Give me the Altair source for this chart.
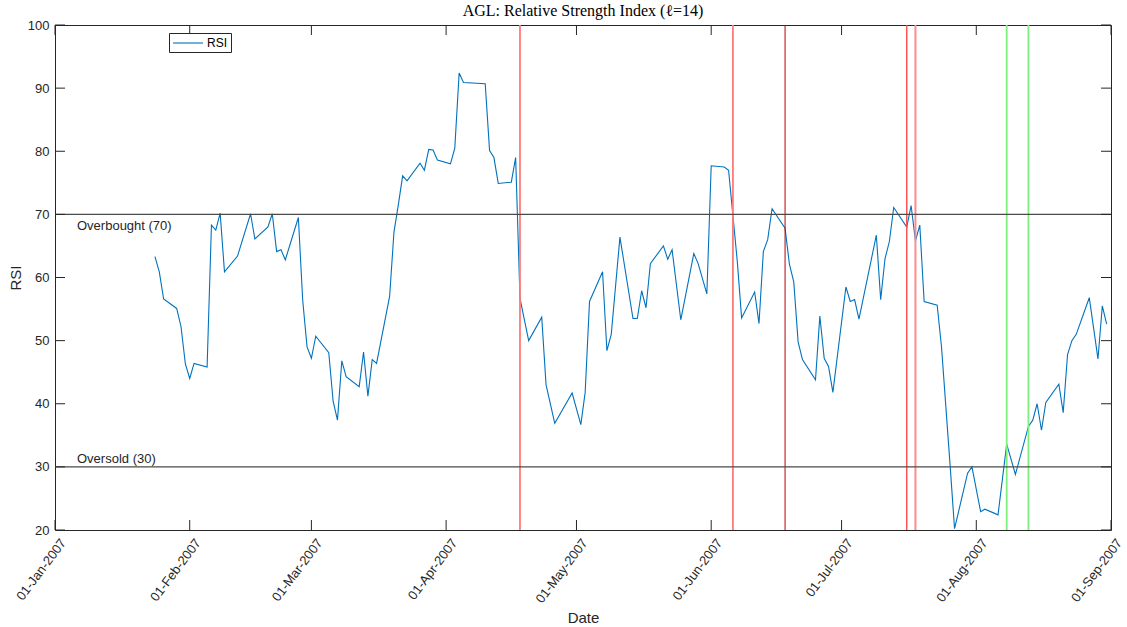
import altair as alt
import pandas as pd

# ---------------- data ----------------
rsi_dates = [
    "2007-01-24", "2007-01-25", "2007-01-26", "2007-01-29", "2007-01-30", "2007-01-31",
    "2007-02-01", "2007-02-02", "2007-02-05", "2007-02-06", "2007-02-07", "2007-02-08",
    "2007-02-09", "2007-02-12", "2007-02-15", "2007-02-16", "2007-02-19", "2007-02-20",
    "2007-02-21", "2007-02-22", "2007-02-23", "2007-02-26", "2007-02-27", "2007-02-28",
    "2007-03-01", "2007-03-02", "2007-03-05", "2007-03-06", "2007-03-07", "2007-03-08",
    "2007-03-09", "2007-03-12", "2007-03-13", "2007-03-14", "2007-03-15", "2007-03-16",
    "2007-03-19", "2007-03-20", "2007-03-21", "2007-03-22", "2007-03-23", "2007-03-26",
    "2007-03-27", "2007-03-28", "2007-03-29", "2007-03-30", "2007-04-02", "2007-04-03",
    "2007-04-04", "2007-04-05", "2007-04-10", "2007-04-11", "2007-04-12", "2007-04-13",
    "2007-04-16", "2007-04-17", "2007-04-18", "2007-04-20", "2007-04-23", "2007-04-24",
    "2007-04-26", "2007-04-30", "2007-05-02", "2007-05-03", "2007-05-04", "2007-05-07",
    "2007-05-08", "2007-05-09", "2007-05-11", "2007-05-14", "2007-05-15", "2007-05-16",
    "2007-05-17", "2007-05-18", "2007-05-21", "2007-05-22", "2007-05-23", "2007-05-25",
    "2007-05-28", "2007-05-29", "2007-05-31", "2007-06-01", "2007-06-04", "2007-06-05",
    "2007-06-06", "2007-06-07", "2007-06-08", "2007-06-11", "2007-06-12", "2007-06-13",
    "2007-06-14", "2007-06-15", "2007-06-18", "2007-06-19", "2007-06-20", "2007-06-21",
    "2007-06-22", "2007-06-25", "2007-06-26", "2007-06-27", "2007-06-28", "2007-06-29",
    "2007-07-02", "2007-07-03", "2007-07-04", "2007-07-05", "2007-07-09", "2007-07-10",
    "2007-07-11", "2007-07-12", "2007-07-13", "2007-07-16", "2007-07-17", "2007-07-18",
    "2007-07-19", "2007-07-20", "2007-07-23", "2007-07-24", "2007-07-25", "2007-07-26",
    "2007-07-27", "2007-07-30", "2007-07-31", "2007-08-02", "2007-08-03", "2007-08-06",
    "2007-08-08", "2007-08-10", "2007-08-13", "2007-08-14", "2007-08-15", "2007-08-16",
    "2007-08-17", "2007-08-20", "2007-08-21", "2007-08-22", "2007-08-23", "2007-08-24",
    "2007-08-27", "2007-08-29", "2007-08-30", "2007-08-31",
]
rsi_values = [
    63.3, 60.9, 56.6, 55.1, 52.2, 46.3,
    44.0, 46.4, 45.8, 68.3, 67.5, 70.2,
    60.9, 63.4, 70.1, 66.1, 68.0, 70.1,
    64.1, 64.4, 62.8, 69.5, 56.4, 49.0,
    47.2, 50.7, 48.1, 40.4, 37.4, 46.8,
    44.3, 42.7, 48.2, 41.2, 47.0, 46.4,
    57.0, 67.2, 71.5, 76.1, 75.3, 78.1,
    77.0, 80.3, 80.2, 78.6, 78.0, 80.5,
    92.4, 90.9, 90.7, 80.1, 79.0, 74.9,
    75.1, 79.0, 56.7, 50.0, 53.7, 43.0,
    36.9, 41.7, 36.7, 41.8, 56.2, 60.9,
    48.4, 51.0, 66.4, 53.5, 53.5, 57.9,
    55.2, 62.2, 65.0, 62.9, 64.4, 53.3,
    63.8, 62.2, 57.4, 77.7, 77.5, 77.0,
    69.8, 62.6, 53.6, 57.7, 52.7, 64.1,
    66.0, 70.9, 67.8, 62.1, 59.3, 49.8,
    47.0, 43.8, 53.9, 47.2, 45.9, 41.8,
    58.5, 56.2, 56.5, 53.4, 66.7, 56.5,
    63.0, 65.7, 71.1, 68.0, 71.4, 65.8,
    68.3, 56.2, 55.6, 49.0, 39.5, 30.0,
    20.2, 29.0, 30.0, 22.9, 23.3, 22.4,
    33.6, 28.8, 36.4, 37.4, 40.0, 35.8,
    40.2, 43.1, 38.6, 47.8, 50.0, 51.0,
    56.8, 47.1, 55.5, 52.6,
]

signal_dates = ["2007-04-18", "2007-06-06", "2007-06-18", "2007-07-16",
                "2007-07-18", "2007-08-08", "2007-08-13"]
signal_colors = ["#FF7A7A", "#FF7A7A", "#B80000", "#FF4A4A",
                 "#FF8A8A", "#7CEF7C", "#7CEF7C"]
signal_widths = [1.8, 1.8, 1.0, 1.4, 2.0, 1.8, 1.8]

month_ticks = ["2007-01-01", "2007-02-01", "2007-03-01", "2007-04-01", "2007-05-01",
               "2007-06-01", "2007-07-01", "2007-08-01", "2007-09-01"]
y_ticks = [20, 30, 40, 50, 60, 70, 80, 90, 100]

level_values = [70, 30]
level_labels = ["Overbought (70)", "Oversold (30)"]

# ---------------- layout / style ----------------
W, H = 1056, 505
FONT = "Liberation Sans"
INK = "#262626"
TICK = 10


def to_dt(s):
    return alt.DateTime(year=int(s[:4]), month=int(s[5:7]), date=int(s[8:10]))


rsi_df = pd.DataFrame({"date": pd.to_datetime(rsi_dates), "rsi": rsi_values, "series": "RSI"})
sig_df = pd.DataFrame({"date": pd.to_datetime(signal_dates), "color": signal_colors,
                       "w": signal_widths})
lvl_df = pd.DataFrame({"level": level_values, "label": level_labels})
mt_df = pd.DataFrame({"date": pd.to_datetime(month_ticks)})
yt_df = pd.DataFrame({"v": y_ticks})

x_scale = alt.Scale(domain=[to_dt(month_ticks[0]), to_dt(month_ticks[-1])])
y_scale = alt.Scale(domain=[y_ticks[0], y_ticks[-1]], nice=False, zero=False)

x_axis = alt.Axis(
    values=[to_dt(s) for s in month_ticks], format="%d-%b-%Y",
    labelAngle=307, labelAlign="right", labelBaseline="middle", labelPadding=10,
    labelOffset=8, labelFlush=False, labelOverlap=False, labelFont=FONT,
    labelFontSize=13, labelColor=INK, ticks=False, domain=False, grid=False,
    title="Date", titleFont=FONT, titleFontSize=15, titleFontWeight="normal",
    titleColor=INK, titleX=528, titleY=87, titleBaseline="middle", titleAlign="center",
)
y_axis = alt.Axis(
    values=y_ticks, labelFont=FONT, labelFontSize=13, labelColor=INK, labelPadding=6,
    ticks=False, domain=False, grid=False,
    title="RSI", titleFont=FONT, titleFontSize=15, titleFontWeight="normal",
    titleColor=INK, titleX=-40, titleY=H / 2, titleAngle=270,
    titleBaseline="middle", titleAlign="center",
)

line = alt.Chart(rsi_df).mark_line(strokeWidth=1.1).encode(
    x=alt.X("date:T", scale=x_scale, axis=x_axis, title="Date"),
    y=alt.Y("rsi:Q", scale=y_scale, axis=y_axis, title="RSI"),
    color=alt.Color(
        "series:N", scale=alt.Scale(domain=["RSI"], range=["#0072BD"]),
        legend=alt.Legend(
            title=None, orient="none", legendX=114, legendY=8,
            strokeColor=INK, fillColor="white", padding=3, cornerRadius=0,
            symbolType="M-1,0H4", symbolSize=144, symbolStrokeWidth=1.1,
            labelFont=FONT, labelFontSize=12, labelColor="#000", labelOffset=21,
        ),
    ),
)

signals = alt.Chart(sig_df).mark_rule().encode(
    x="date:T",
    color=alt.Color("color:N", scale=None),
    size=alt.Size("w:Q", scale=None),
)

levels = alt.Chart(lvl_df).mark_rule(color="#4a4a4a", strokeWidth=1.4).encode(
    y="level:Q",
)

over_txt = alt.Chart(lvl_df.iloc[[0]]).mark_text(
    align="left", baseline="middle", dy=12, font=FONT, fontSize=13, color=INK
).encode(x=alt.value(22), y="level:Q", text="label:N")

under_txt = alt.Chart(lvl_df.iloc[[1]]).mark_text(
    align="left", baseline="middle", dy=-8, font=FONT, fontSize=13, color=INK
).encode(x=alt.value(22), y="level:Q", text="label:N")

tick_style = dict(color=INK, strokeWidth=1)
left_ticks = alt.Chart(yt_df).mark_rule(**tick_style).encode(
    y="v:Q", x=alt.value(0), x2=alt.value(TICK))
right_ticks = alt.Chart(yt_df).mark_rule(**tick_style).encode(
    y="v:Q", x=alt.value(W - TICK), x2=alt.value(W))
bottom_ticks = alt.Chart(mt_df).mark_rule(**tick_style).encode(
    x="date:T", y=alt.value(H - TICK), y2=alt.value(H))
top_ticks = alt.Chart(mt_df).mark_rule(**tick_style).encode(
    x="date:T", y=alt.value(0), y2=alt.value(TICK))

chart = alt.layer(
    line, signals, levels, over_txt, under_txt,
    left_ticks, right_ticks, bottom_ticks, top_ticks,
).resolve_scale(color="independent", size="independent").properties(
    width=W, height=H,
    title=alt.TitleParams(
        "AGL: Relative Strength Index (\u2113=14)", font="Liberation Serif",
        fontSize=16, fontWeight="normal", color="#000", anchor="middle", offset=0,
    ),
    autosize=alt.AutoSizeParams(type="none"),
    padding={"left": 55, "top": 25, "right": 16, "bottom": 97},
    background="white",
).configure_view(stroke=INK, strokeWidth=1)

chart.save("out.html", embed_options={"renderer": "svg", "actions": False})
